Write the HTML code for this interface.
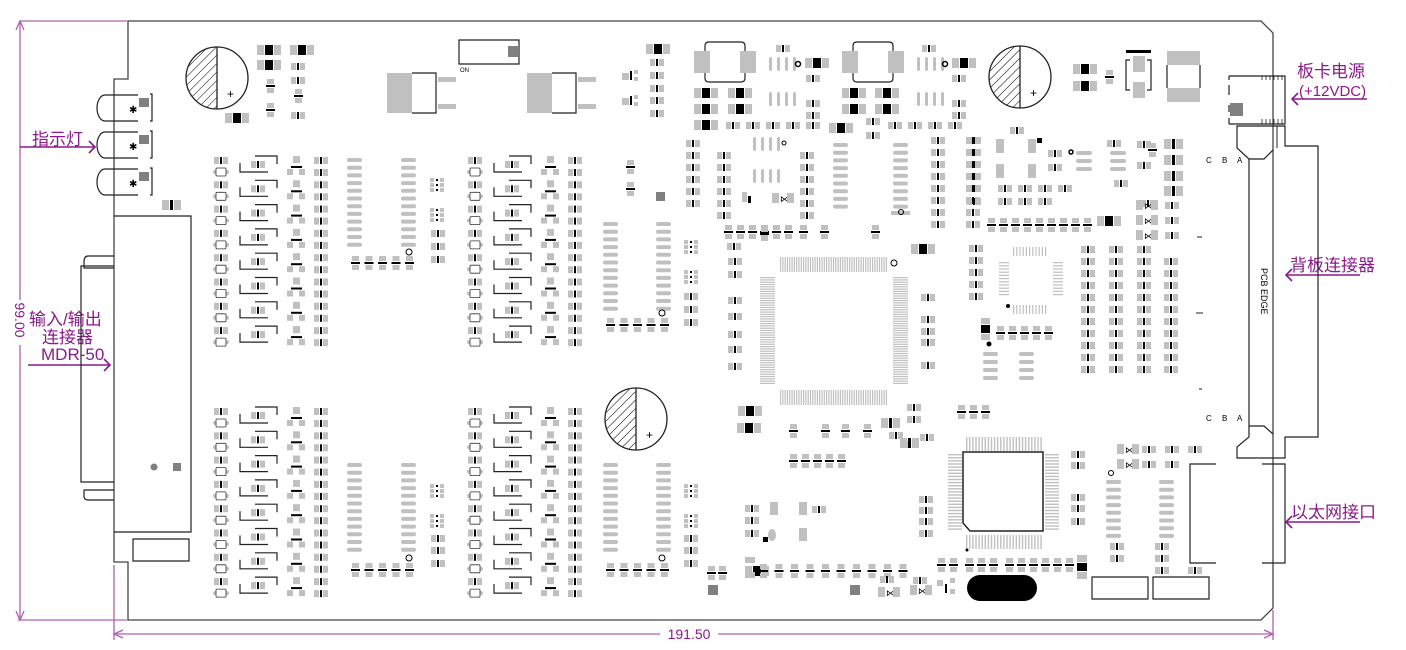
<!DOCTYPE html>
<html><head><meta charset="utf-8"><style>
html,body{margin:0;padding:0;background:#fff;width:1406px;height:650px;overflow:hidden}
svg{display:block}
.lbl{font-family:"Liberation Sans","Noto Sans CJK SC",sans-serif;fill:#8b1a8b;font-size:17px}
.sm{font-family:"Liberation Sans",sans-serif;font-size:8px;fill:#000}
</style></head><body>
<svg id="s" width="1406" height="650" viewBox="0 0 1406 650" xmlns="http://www.w3.org/2000/svg">
<defs>
<pattern id="hatch" width="6" height="6" patternUnits="userSpaceOnUse" patternTransform="rotate(45)"><line x1="0" y1="0" x2="0" y2="6" stroke="#000" stroke-width="1"/></pattern>
</defs>
<g fill="none" stroke="#444" stroke-width="1.3">
<path d="M128,21 L1261,21 L1273,33 L1273,608 L1261,620 L128,620 L128,562 L114,562 L114,79 L128,79 Z"/>
</g>
<g stroke="#b060b0" stroke-width="1.3" fill="none">
<line x1="20" y1="21" x2="127" y2="21"/><line x1="18" y1="620" x2="127" y2="620"/>
<line x1="20" y1="23" x2="20" y2="300"/><line x1="20" y1="345" x2="20" y2="618"/>
<path d="M16,30 L20,21 L24,30 M16,611 L20,620 L24,611"/>
<line x1="114" y1="565" x2="114" y2="640"/><line x1="1273" y1="610" x2="1273" y2="640"/>
<line x1="116" y1="634" x2="660" y2="634"/><line x1="718" y1="634" x2="1271" y2="634"/>
<path d="M123,630 L114,634 L123,638 M1264,630 L1273,634 L1264,638"/>
</g>
<text x="0" y="0" transform="translate(15,320) rotate(90)" text-anchor="middle" style="font-family:'Liberation Sans',sans-serif;font-size:14px;fill:#8b1a8b">99.00</text>
<text x="689" y="639" text-anchor="middle" style="font-family:'Liberation Sans',sans-serif;font-size:14px;fill:#8b1a8b">191.50</text>
<g stroke="#8b1a8b" stroke-width="1.6" fill="none">
<line x1="20" y1="147" x2="95" y2="147"/><path d="M89,141 L95,147 L89,153"/>
<line x1="28" y1="365" x2="110" y2="365"/><path d="M104,359 L110,365 L104,371"/>
<line x1="1292" y1="99" x2="1367" y2="99"/><path d="M1298,93 L1292,99 L1298,105"/>
<line x1="1286" y1="275" x2="1360" y2="275"/><path d="M1292,269 L1286,275 L1292,281"/>
<line x1="1286" y1="522" x2="1360" y2="522"/><path d="M1292,516 L1286,522 L1292,528"/>
</g>
<text class="lbl" x="32" y="145">指示灯</text>
<text class="lbl" x="29" y="325">输入/输出</text>
<text class="lbl" x="42" y="343">连接器</text>
<text class="lbl" x="41" y="360">MDR-50</text>
<text class="lbl" x="1297" y="77">板卡电源</text>
<text class="lbl" x="1299" y="96" style="font-size:15px">(+12VDC)</text>
<text class="lbl" x="1290" y="271">背板连接器</text>
<text class="lbl" x="1291" y="518">以太网接口</text>
<g id="g"></g>
</svg>
<script>
var g=document.getElementById('g'),h='';
function r(x,y,w,hh,f){h+='<rect x="'+x+'" y="'+y+'" width="'+w+'" height="'+hh+'" fill="'+f+'"/>';}
function st(d,sw){h+='<path d="'+d+'" fill="none" stroke="#222" stroke-width="'+(sw||1.2)+'"/>';}
var G='#c0c0c0',D='#808080',K='#000';
function R(x,y){r(x,y,5,7,G);r(x+6,y,2,7,K);r(x+9,y,5,7,G);}
function B(x,y){r(x,y,7,10,G);r(x+8,y,8,10,K);r(x+17,y,7,10,G);}
function RB(x,y){r(x,y,7,10,G);r(x+8,y,3,10,K);r(x+12,y,7,10,G);}
function V(x,y){r(x,y,7,5,G);r(x-1,y+6,9,2,K);r(x,y+9,7,5,G);}
function DI(x,y){r(x,y,7,10,G);h+='<text x="'+(x+8)+'" y="'+(y+9)+'" style="font-size:9px;font-family:Liberation Sans">⋈</text>';r(x+15,y,7,10,G);}
function P(x,y,w){h+='<rect x="'+x+'" y="'+y+'" width="'+w+'" height="4" rx="2" fill="'+G+'"/>';}
function AR(x,y){for(var i=0;i<3;i++){r(x,y+i*5,4,4,G);r(x+6,y+i*5+1,2,2,K);r(x+10,y+i*5,4,4,G);}}
[108,145,182].forEach(function(y){st('M114,'+(y-13)+' L105,'+(y-13)+' A8,13 0 0 0 105,'+(y+13)+' L114,'+(y+13)+' M114,'+(y-13)+' L138,'+(y-13)+' M114,'+(y+13)+' L138,'+(y+13)+' M150,'+(y-14)+' L152,'+(y-14)+' L152,'+(y+13)+' L150,'+(y+13));r(139,y-10,10,9,D);h+='<text x="129" y="'+(y+5)+'" style="font-size:10px">✱</text>';});
RB(162,200);
st('M114,216 L191,216 L191,532 L114,532');
st('M114,256 L88,256 Q84,256 84,262 L84,268 L114,268 M114,266 L81,266 L81,482 L114,482 M114,490 L84,490 L84,496 Q84,500 88,500 L114,500');
h+='<circle cx="154" cy="467" r="3.5" fill="'+D+'"/>';r(173,463,8,8,D);
st('M133,539 L189,539 L189,561 L133,561 Z');
function cap(cx,cy){h+='<path d="M'+cx+','+(cy-31)+' A31,31 0 0 0 '+cx+','+(cy+31)+' Z" fill="url(#hatch)"/>';h+='<circle cx="'+cx+'" cy="'+cy+'" r="31" fill="none" stroke="#222" stroke-width="1.3"/><line x1="'+cx+'" y1="'+(cy-31)+'" x2="'+cx+'" y2="'+(cy+31)+'" stroke="#222" stroke-width="1.3"/>';h+='<text x="'+(cx+10)+'" y="'+(cy+20)+'" style="font-size:12px;font-family:Liberation Sans">+</text>';}
cap(217,78);cap(636,419);cap(1020,77);
B(257,45);B(290,45);B(257,60);R(291,63);R(291,77);V(267,79);V(295,89);V(267,103);R(291,112);B(225,113);
function reg(x){r(x,73,25,40,G);st('M'+(x+25)+',73 L'+(x+49)+',73 L'+(x+49)+',113 L'+(x+25)+',113');r(x+51,77,18,5,G);r(x+51,104,18,5,G);}
reg(387);reg(527);
st('M459,40 L519,40 L519,64 L459,64 Z');r(508,46,10,11,D);h+='<text class="sm" x="460" y="72" style="font-size:6px">ON</text>';
B(646,44);R(650,59);R(650,72);R(650,85);R(650,97);R(650,110);
r(622,73,7,7,G);r(630,71,2,9,K);r(634,70,4,4,G);r(634,77,4,4,G);
r(622,98,7,7,G);r(630,96,2,9,K);r(634,95,4,4,G);r(634,102,4,4,G);
V(627,160);V(627,182);r(656,192,9,9,D);
function chan(x0,y0){for(var i=0;i<8;i++){var y=y0+i*24.3;R(x0,y);P(x0-1,y+13,16);h+='<rect x="'+(x0+2)+'" y="'+(y+11)+'" width="10" height="8" fill="#fff" stroke="#333" stroke-width="0.8" rx="1"/>';
st('M'+(x0+26)+','+(y+6)+' L'+(x0+26)+','+(y+15)+' L'+(x0+54)+','+(y+15)+' M'+(x0+41)+','+(y-1)+' L'+(x0+63)+','+(y-1)+' L'+(x0+63)+','+(y+7));
R(x0+37,y+4);r(x0+79,y-1,7,7,G);r(x0+77,y+9,11,2,K);r(x0+73,y+12,6,6,G);r(x0+85,y+12,6,6,G);R(x0+100,y);R(x0+100,y+12);}}
chan(214,157);chan(468,157);chan(214,408);chan(468,408);
function soic(x1,x2,y,n){for(var i=0;i<n;i++){P(x1,y+i*7.7,15);P(x2,y+i*7.7,15);}}
function bot(x,y,n){for(var i=0;i<n;i++)V(x+i*13.5,y);}
soic(347,401,158,12);h+='<circle cx="409" cy="252" r="3" fill="none" stroke="#000"/>';bot(352,256,5);AR(430,178);AR(430,208);R(431,230);R(431,243);R(431,256);
soic(603,656,222,12);h+='<circle cx="662" cy="313" r="3" fill="none" stroke="#000"/>';bot(607,318,5);AR(684,240);AR(684,270);R(684,293);R(684,306);R(684,319);
soic(347,401,463,12);h+='<circle cx="409" cy="558" r="3" fill="none" stroke="#000"/>';bot(352,563,5);AR(430,484);AR(430,514);R(431,535);R(431,547);R(431,560);
soic(603,656,463,12);h+='<circle cx="662" cy="558" r="3" fill="none" stroke="#000"/>';bot(607,563,5);AR(684,484);AR(684,514);R(684,535);R(684,547);R(684,560);
function ind(x){st('M'+(x+4)+',42 L'+(x+36)+',42 Q'+(x+40)+',42 '+(x+40)+',46 L'+(x+40)+',78 Q'+(x+40)+',82 '+(x+36)+',82 L'+(x+4)+',82 Q'+x+',82 '+x+',78 L'+x+',46 Q'+x+',42 '+(x+4)+',42');r(x-11,51,16,22,G);r(x+35,51,16,22,G);}
ind(705);ind(853);
function comb(x,y){for(var i=0;i<4;i++)h+='<rect x="'+(x+i*8)+'" y="'+y+'" width="3" height="14" rx="1.5" fill="'+G+'"/>';}
comb(769,57);comb(769,92);comb(917,57);comb(917,92);comb(753,137);comb(753,169);
h+='<circle cx="798" cy="64" r="2.5" fill="none" stroke="#000" stroke-width="1.5"/><circle cx="945" cy="64" r="2.5" fill="none" stroke="#000" stroke-width="1.5"/><circle cx="784" cy="143" r="2" fill="none" stroke="#000"/>';
B(805,58);B(952,58);R(806,75);R(952,75);R(806,100);R(806,112);R(952,100);R(952,112);R(776,45);R(922,45);
B(694,88);B(728,88);B(694,104);B(728,104);B(694,120);R(726,122);R(746,122);R(766,122);R(786,122);R(806,122);
B(842,88);B(875,88);B(842,104);B(875,104);B(829,123);R(866,118);R(866,132);R(888,122);R(908,122);R(928,122);R(948,122);
for(var i=0;i<6;i++){R(686,140+i*12);R(717,152+i*12);R(800,152+i*12);R(931,137+i*12);R(966,137+i*12);}
R(931,209);R(931,221);R(966,209);R(966,221);
r(742,192,5,10,G);r(748,196,3,7,K);DI(772,193);
soic(833,893,143,9);r(891,211,19,4,G);h+='<circle cx="901" cy="212" r="2.5" fill="none" stroke="#000"/>';
[725,737,749,761,773,785,800,821,872].forEach(function(x){V(x,225);});V(761,227);
for(var i=0;i<47;i++){r(780+i*2.3,257,1.2,15,G);r(780+i*2.3,390,1.2,15,G);}
for(var i=0;i<47;i++){r(760,277+i*2.3,15,1.2,G);r(893,277+i*2.3,15,1.2,G);}
h+='<circle cx="894" cy="263" r="3" fill="none" stroke="#000"/>';
R(727,243);R(728,258);R(728,271);R(728,297);R(728,313);R(728,331);R(728,346);R(728,363);B(911,244);
R(921,294);R(921,316);R(921,328);R(921,339);R(921,362);R(907,404);R(907,416);RB(881,418);R(889,432);RB(900,438);
B(738,406);B(737,423);V(790,424);V(822,424);V(842,424);V(864,424);for(var i=0;i<5;i++)V(790+i*12,454);
R(1010,127);R(967,137);R(967,149);R(967,161);R(967,173);R(967,185);R(967,198);r(996,139,8,14,G);r(1028,139,8,14,G);r(1037,138,5,5,K);r(996,164,8,14,G);r(1028,164,8,14,G);
R(1048,150);R(1048,164);h+='<circle cx="1071" cy="152" r="2" fill="none" stroke="#000" stroke-width="1.5"/>';P(1076,151,16);P(1076,159,16);P(1076,167,16);P(1110,151,16);P(1110,159,16);P(1110,167,16);R(1107,140);
for(var i=0;i<4;i++)R(998+i*20,185);for(var i=0;i<3;i++)R(998+i*20,198);
for(var i=0;i<9;i++)V(988+i*12,218);B(1097,216);
for(var i=0;i<11;i++){r(1013+i*3.2,247,1.2,9,G);r(1013+i*3.2,305,1.2,9,G);}
for(var i=0;i<11;i++){r(999,262+i*3.2,10,1.2,G);r(1053,262+i*3.2,10,1.2,G);}
h+='<circle cx="1008" cy="306" r="2" fill="#000"/>';
for(var i=0;i<5;i++)R(969,245+i*12);
r(981,318,9,6,G);r(981,325,9,8,K);r(981,334,9,6,G);for(var i=0;i<5;i++)V(997+i*12,326);
h+='<circle cx="989" cy="344" r="2.5" fill="#000"/>';P(983,352,15);P(983,360,15);P(983,368,15);P(983,376,15);P(1019,352,15);P(1019,360,15);P(1019,368,15);P(1019,376,15);
V(958,405);V(970,405);V(982,405);
for(var c=0;c<4;c++)for(var i=0;i<11;i++){if(c==3&&i==0)continue;R([1081,1109,1137,1164][c],246+i*12);}
R(1137,141);R(1137,162);R(1114,180);R(1141,200);
RB(1164,139);RB(1164,155);RB(1164,171);RB(1164,186);DI(1136,200);DI(1136,215);DI(1136,230);R(1165,202);R(1165,217);R(1165,232);
V(1149,143);
h+='<text class="sm" x="1206" y="163">C</text><text class="sm" x="1222" y="163">B</text><text class="sm" x="1237" y="163">A</text>';
h+='<text class="sm" x="1206" y="421">C</text><text class="sm" x="1222" y="421">B</text><text class="sm" x="1237" y="421">A</text>';
st('M1197,237 L1202,237 M1196,313 L1203,313 M1199,389 L1202,389',1);
r(1126,50,25,3,K);r(1133,56,12,16,G);r(1133,82,12,16,G);st('M1130,60 L1126,60 L1126,90 L1130,90 M1147,60 L1151,60 L1151,90 L1147,90');
r(1167,51,33,14,G);r(1167,88,33,14,G);st('M1167,65 L1167,88 M1200,65 L1200,88');
B(1073,64);B(1073,81);V(1106,70);
st('M1229,76 L1285,76 L1285,124 L1229,124 M1229,76 L1229,80 M1229,85 L1229,95 M1229,105 L1229,112 M1229,118 L1229,124');
for(var i=0;i<6;i++){st('M'+(1262+i*4)+',76 L'+(1262+i*4)+',80 M'+(1262+i*4)+',124 L'+(1262+i*4)+',119',0.8);}
r(1230,103,13,13,D);
st('M1237,126 L1285,126 L1285,146 L1318,146 L1318,437 L1285,437 L1285,458 L1237,458 L1237,447 L1249,437 L1249,159 L1237,148 Z');
st('M1249,159 L1264,159 L1273,150 M1249,426 L1264,426 L1273,434');
st('M1277,126 L1277,148',1);
h+='<text x="0" y="0" transform="translate(1261,268) rotate(90)" style="font-family:Liberation Sans;font-size:9px">PCB EDGE</text>';
for(var i=0;i<25;i++){r(966+i*3.1,437,1.4,14,G);r(966+i*3.1,535,1.4,14,G);r(948,454+i*3.1,14,1.4,G);r(1045,454+i*3.1,14,1.4,G);}
st('M963,452 L1043,452 L1043,531 L970,531 L963,523 Z',1.5);
h+='<circle cx="967" cy="550" r="1.5" fill="#000"/>';
R(1071,451);R(1071,462);R(920,434);R(903,441);R(919,496);R(919,507);R(919,518);R(919,530);R(1071,494);R(1071,505);R(1071,518);
r(1077,555,10,7,G);r(1077,563,10,8,K);r(1077,572,10,7,G);
[938,950,966,978,990,1006,1018,1030,1042,1054,1066].forEach(function(x){V(x,558);});
R(913,577);DI(910,585);r(937,580,6,6,G);r(945,584,2,9,K);r(950,578,5,5,G);r(950,589,5,5,G);
h+='<rect x="967" y="575" width="70" height="26" rx="13" fill="#000"/>';
st('M1092,577 L1148,577 L1148,599 L1092,599 Z M1153,577 L1209,577 L1209,599 L1153,599 Z');
DI(1117,444);DI(1117,459);R(1142,446);R(1165,446);R(1188,446);R(1142,461);R(1165,461);
h+='<circle cx="1111" cy="473" r="2.5" fill="none" stroke="#000"/>';
soic(1106,1159,480,8);R(1110,543);R(1110,555);R(1155,543);R(1155,555);R(1155,567);R(1188,567);
st('M1216,464 L1190,464 L1190,563 L1216,563 M1262,464 L1285,464 L1285,563 L1262,563');
B(745,566);r(745,557,10,6,G);r(745,572,10,6,G);
for(var i=0;i<10;i++)V(760+i*15.5,564);V(708,566);V(719,566);
r(708,585,10,10,D);r(850,585,10,10,D);R(880,576);DI(878,587);
R(745,505);R(745,517);R(745,530);r(770,502,8,13,G);r(799,502,8,13,G);r(799,528,8,13,G);R(812,506);r(763,537,5,5,K);h+='<ellipse cx="772" cy="535" rx="4" ry="6" fill="'+G+'"/>';
g.innerHTML=h;
</script>
</body></html>
